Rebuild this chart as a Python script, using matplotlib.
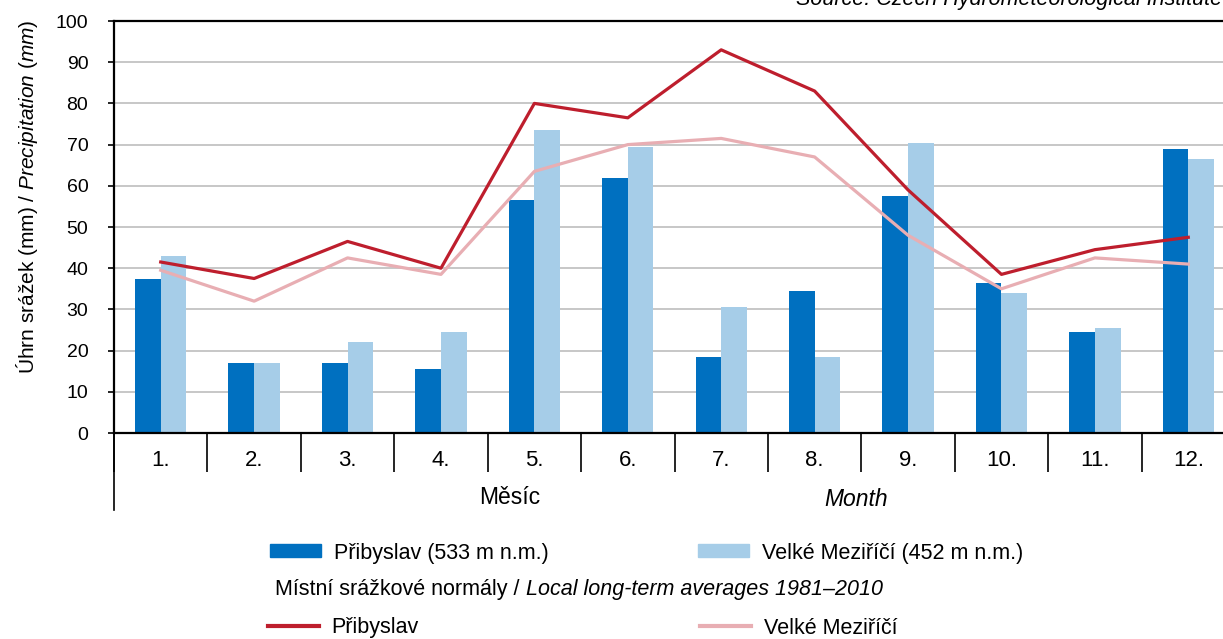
import numpy as np
import matplotlib
matplotlib.use("Agg")
import matplotlib.pyplot as plt
from matplotlib.patches import Patch
from matplotlib.lines import Line2D

plt.rcParams['font.family'] = ['Liberation Sans', 'DejaVu Sans']
plt.rcParams['mathtext.fontset'] = 'custom'
plt.rcParams['mathtext.rm'] = 'Liberation Sans'
plt.rcParams['mathtext.it'] = 'Liberation Sans:italic'

# data
months = ['1.', '2.', '3.', '4.', '5.', '6.', '7.', '8.', '9.', '10.', '11.', '12.']
pribyslav = [37.5, 17, 17, 15.5, 56.5, 62, 18.5, 34.5, 57.5, 36.5, 24.5, 69]
velke_mezirici = [43, 17, 22, 24.5, 73.5, 69.5, 30.5, 18.5, 70.5, 34, 25.5, 66.5]
norm_pribyslav = [41.5, 37.5, 46.5, 40, 80, 76.5, 93, 83, 59, 38.5, 44.5, 47.5]
norm_velke_mezirici = [39.5, 32, 42.5, 38.5, 63.5, 70, 71.5, 67, 48, 35, 42.5, 41]

dark_blue = '#0070C0'
light_blue = '#A6CDE8'
dark_red = '#BE1E2D'
pink = '#E8AEB3'

W, H = 1223, 639
fig = plt.figure(figsize=(W / 100, H / 100), dpi=100)
ax = fig.add_axes([114 / W, 206 / H, (1235 - 114) / W, 412 / H])

x = np.arange(len(months))
bw = 0.275
ax.bar(x - bw / 2, pribyslav, bw, color=dark_blue, zorder=2)
ax.bar(x + bw / 2, velke_mezirici, bw, color=light_blue, zorder=2)
ax.plot(x, norm_velke_mezirici, color=pink, lw=2.3, zorder=3)
ax.plot(x, norm_pribyslav, color=dark_red, lw=2.3, zorder=4)

ax.set_xlim(-0.5, 11.5)
ax.set_ylim(0, 100)
ax.set_yticks(np.arange(0, 101, 10))
ax.yaxis.grid(True, color='#BEBEBE', lw=1.2, zorder=0)
ax.set_axisbelow(True)
ax.tick_params(axis='y', direction='out', length=4.5, width=1.2, pad=14, labelsize=14)

ax.set_xticks(x)
ax.set_xticklabels(months)
ax.set_xticks(np.arange(-0.5, 12, 1), minor=True)
ax.tick_params(axis='x', which='major', length=0, pad=12, labelsize=16)
ax.tick_params(axis='x', which='minor', direction='out', length=28, width=1.2)

for s in ['left', 'top', 'bottom']:
    ax.spines[s].set_linewidth(1.6)
ax.spines['right'].set_visible(False)

# long line at the left of the two-level category axis
ax.plot([-0.5, -0.5], [0, -18.7], color='black', lw=1.2, clip_on=False)

fig.text(510 / W, 1 - 498 / H, 'Měsíc', ha='center', va='center', fontsize=16.5)
fig.text(856 / W, 1 - 500 / H, 'Month', ha='center', va='center', fontsize=16.5, style='italic')

fig.text(27 / W, 1 - 197 / H, r'Úhrn srážek (mm) / $\mathit{Precipitation\ (mm)}$',
         rotation=90, ha='center', va='center', fontsize=15)

fig.text(1222 / W, 1 - 5 / H, 'Source: Czech Hydrometeorological Institute',
         ha='right', va='baseline', fontsize=15.5, style='italic')

# legend rows
leg_kw = dict(loc='center left', frameon=False, fontsize=15.5, borderpad=0, borderaxespad=0,
              handlelength=2.35, handletextpad=0.6, handleheight=0.55)
entries = [
    (Patch(color=dark_blue), 'Přibyslav (533 m n.m.)', 270, 553),
    (Patch(color=light_blue), 'Velké Meziříčí (452 m n.m.)', 698, 553),
    (Line2D([], [], color=dark_red, lw=3), 'Přibyslav', 268, 628),
    (Line2D([], [], color=pink, lw=3), 'Velké Meziříčí', 700, 628),
]
for h, lab, lx, ly in entries:
    fig.legend([h], [lab], bbox_to_anchor=(lx / W, 1 - ly / H), **leg_kw)

t1 = fig.text(275 / W, 1 - 590 / H, 'Místní srážkové normály / ', ha='left', va='center', fontsize=15.5)
ax.annotate('Local long-term averages 1981–2010', xy=(1, 0), xycoords=t1,
            ha='left', va='bottom', fontsize=15.5, style='italic')

fig.savefig('out.png', dpi=100)
